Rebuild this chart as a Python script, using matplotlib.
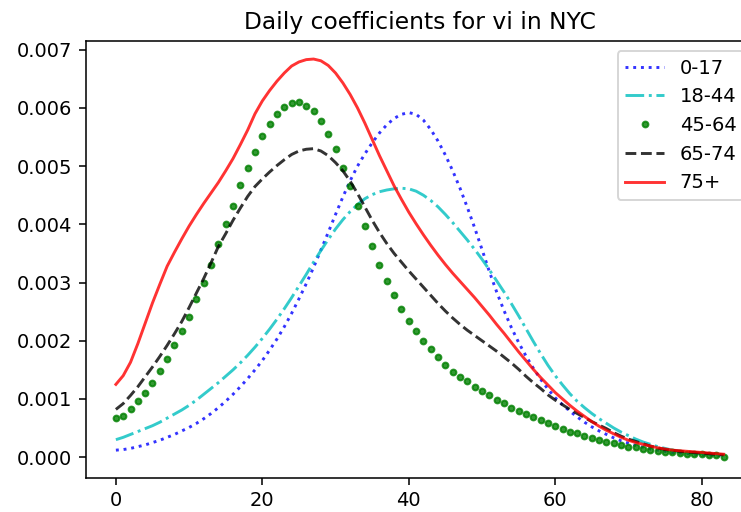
import numpy as np
import matplotlib
matplotlib.use("Agg")
import matplotlib.pyplot as plt

days = list(range(84))

age_0_17 = [0.00012, 0.00013, 0.00015, 0.00018, 0.00021, 0.00025, 0.00029, 0.00034, 0.00039, 0.00045,
            0.00051, 0.00058, 0.00066, 0.00075, 0.00085, 0.00096, 0.00108, 0.00121, 0.00135, 0.00150,
            0.00166, 0.00184, 0.00203, 0.00224, 0.00247, 0.00272, 0.00298, 0.00326, 0.00356, 0.00386,
            0.00417, 0.00447, 0.00475, 0.00500, 0.00521, 0.00540, 0.00557, 0.00571, 0.00582, 0.00589,
            0.00592, 0.00589, 0.00579, 0.00563, 0.00543, 0.00519, 0.00492, 0.00462, 0.00429, 0.00394,
            0.00357, 0.00319, 0.00284, 0.00252, 0.00223, 0.00197, 0.00174, 0.00153, 0.00134, 0.00117,
            0.00102, 0.00090, 0.00079, 0.00069, 0.00060, 0.00052, 0.00045, 0.00039, 0.00033, 0.00028,
            0.00024, 0.00020, 0.00017, 0.00014, 0.00012, 0.00010, 0.00008, 0.00007, 0.00006, 0.00005,
            0.00004, 0.00003, 0.00003, 0.00002]

age_18_44 = [0.00030, 0.00034, 0.00039, 0.00044, 0.00049, 0.00054, 0.00060, 0.00067, 0.00074, 0.00081,
             0.00089, 0.00098, 0.00108, 0.00118, 0.00128, 0.00139, 0.00150, 0.00162, 0.00175, 0.00189,
             0.00204, 0.00220, 0.00237, 0.00255, 0.00274, 0.00294, 0.00314, 0.00335, 0.00355, 0.00374,
             0.00392, 0.00408, 0.00422, 0.00434, 0.00444, 0.00451, 0.00456, 0.00459, 0.00461, 0.00462,
             0.00461, 0.00457, 0.00450, 0.00441, 0.00430, 0.00417, 0.00403, 0.00388, 0.00373, 0.00357,
             0.00340, 0.00322, 0.00303, 0.00284, 0.00264, 0.00243, 0.00221, 0.00199, 0.00178, 0.00158,
             0.00140, 0.00124, 0.00109, 0.00096, 0.00085, 0.00075, 0.00066, 0.00058, 0.00050, 0.00043,
             0.00037, 0.00031, 0.00026, 0.00022, 0.00018, 0.00015, 0.00012, 0.00010, 0.00008, 0.00007,
             0.00006, 0.00005, 0.00004, 0.00003]

age_45_64 = [0.00067, 0.00071, 0.00082, 0.00096, 0.00110, 0.00127, 0.00148, 0.00169, 0.00192, 0.00217,
             0.00241, 0.00272, 0.00300, 0.00330, 0.00366, 0.00401, 0.00431, 0.00467, 0.00497, 0.00525,
             0.00552, 0.00572, 0.00589, 0.00602, 0.00609, 0.00610, 0.00604, 0.00594, 0.00578, 0.00555,
             0.00529, 0.00497, 0.00466, 0.00431, 0.00397, 0.00362, 0.00330, 0.00303, 0.00279, 0.00254,
             0.00234, 0.00217, 0.00199, 0.00185, 0.00172, 0.00158, 0.00147, 0.00138, 0.00130, 0.00120,
             0.00113, 0.00106, 0.00099, 0.00093, 0.00085, 0.00079, 0.00074, 0.00069, 0.00063, 0.00059,
             0.00054, 0.00048, 0.00044, 0.00041, 0.00037, 0.00033, 0.00029, 0.00026, 0.00024, 0.00021,
             0.00018, 0.00017, 0.00014, 0.00012, 0.00011, 0.00009, 0.00008, 0.00007, 0.00006, 0.00005,
             0.00005, 0.00004, 0.00004, 0.00001]

age_65_74 = [0.00082, 0.00092, 0.00106, 0.00121, 0.00138, 0.00155, 0.00173, 0.00192, 0.00212, 0.00233,
             0.00257, 0.00282, 0.00307, 0.00334, 0.00362, 0.00384, 0.00407, 0.00428, 0.00448, 0.00465,
             0.00478, 0.00490, 0.00501, 0.00511, 0.00520, 0.00526, 0.00529, 0.00530, 0.00526, 0.00518,
             0.00506, 0.00492, 0.00474, 0.00453, 0.00430, 0.00407, 0.00386, 0.00367, 0.00350, 0.00335,
             0.00320, 0.00306, 0.00292, 0.00278, 0.00264, 0.00251, 0.00239, 0.00228, 0.00218, 0.00209,
             0.00200, 0.00191, 0.00182, 0.00172, 0.00162, 0.00151, 0.00139, 0.00128, 0.00118, 0.00107,
             0.00098, 0.00090, 0.00082, 0.00075, 0.00068, 0.00061, 0.00055, 0.00049, 0.00042, 0.00036,
             0.00031, 0.00027, 0.00023, 0.00019, 0.00016, 0.00013, 0.00012, 0.00010, 0.00009, 0.00008,
             0.00007, 0.00006, 0.00005, 0.00004]

age_75_plus = [0.00125, 0.00140, 0.00163, 0.00195, 0.00230, 0.00265, 0.00297, 0.00328, 0.00352, 0.00375,
               0.00397, 0.00417, 0.00436, 0.00454, 0.00472, 0.00492, 0.00513, 0.00537, 0.00562, 0.00590,
               0.00612, 0.00630, 0.00646, 0.00660, 0.00672, 0.00679, 0.00683, 0.00684, 0.00681, 0.00673,
               0.00660, 0.00643, 0.00623, 0.00600, 0.00574, 0.00546, 0.00518, 0.00492, 0.00466, 0.00443,
               0.00421, 0.00401, 0.00382, 0.00364, 0.00347, 0.00331, 0.00316, 0.00302, 0.00288, 0.00274,
               0.00259, 0.00244, 0.00228, 0.00213, 0.00197, 0.00181, 0.00166, 0.00151, 0.00137, 0.00124,
               0.00111, 0.00100, 0.00089, 0.00079, 0.00070, 0.00061, 0.00053, 0.00046, 0.00040, 0.00034,
               0.00029, 0.00025, 0.00022, 0.00019, 0.00016, 0.00014, 0.00012, 0.00011, 0.00010, 0.00009,
               0.00008, 0.00007, 0.00006, 0.00005]

labels = ["0-17", "18-44", "45-64", "65-74", "75+"]

W, H = 741, 512
DPI = 140
fig = plt.figure(figsize=(W / DPI, H / DPI), dpi=DPI)
left_px, right_px, top_px, bottom_px = 85.5, 754.0, 41.0, 477.5
ax = fig.add_axes([left_px / W, 1 - bottom_px / H, (right_px - left_px) / W, (bottom_px - top_px) / H])

ax.plot(days, age_0_17, "b:", alpha=0.8, label=labels[0])
ax.plot(days, age_18_44, "c-.", alpha=0.8, label=labels[1])
ax.plot(days, age_45_64, "g.", alpha=0.8, label=labels[2])
ax.plot(days, age_65_74, "k--", alpha=0.8, label=labels[3])
ax.plot(days, age_75_plus, "r-", alpha=0.8, label=labels[4])

ax.set_xlim(-4.15, 87.15)
ax.set_ylim(-0.00035, 0.00715)
ax.set_xticks([0, 20, 40, 60, 80])
ax.set_yticks([0.000, 0.001, 0.002, 0.003, 0.004, 0.005, 0.006, 0.007])
ax.yaxis.set_major_formatter(matplotlib.ticker.FormatStrFormatter("%.3f"))
ax.set_title("Daily coefficients for vi in NYC")
ax.legend(loc="upper right")

fig.savefig("out.png", dpi=DPI)
